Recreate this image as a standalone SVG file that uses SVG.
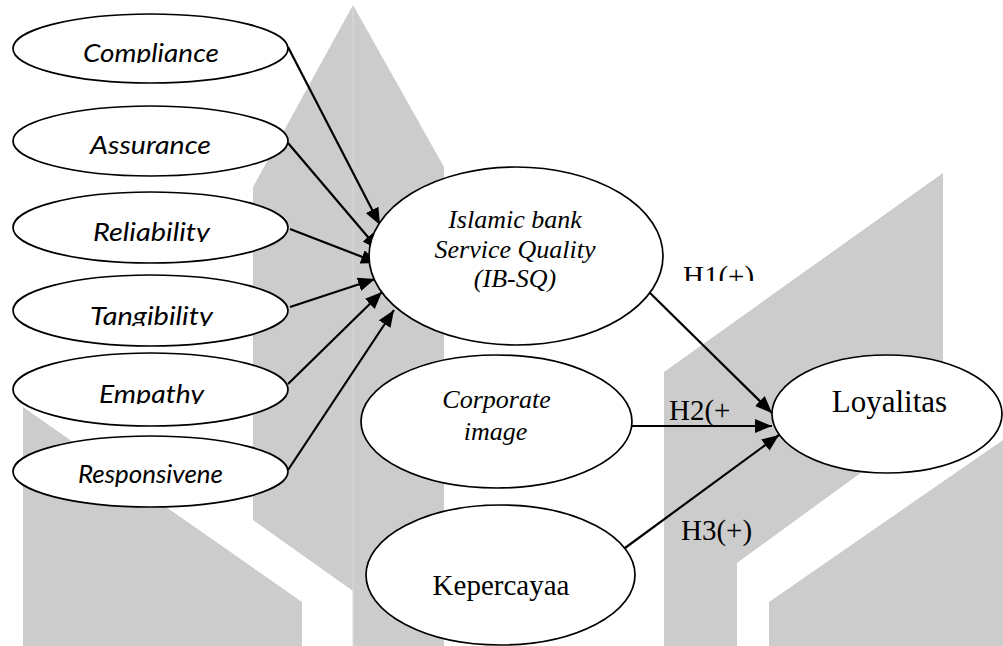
<svg xmlns="http://www.w3.org/2000/svg" width="1003" height="646" viewBox="0 0 1003 646">
  <style>
    .bg { fill: #cccccc; }
    .node { fill: #ffffff; stroke: #000000; stroke-width: 1.7; }
    .edge { fill: none; stroke: #000000; stroke-width: 2.2; marker-end: url(#arrow); }
    .dim { font-family: Lato, "Open Sans", "Noto Sans", sans-serif; font-style: italic; font-size: 26px; fill: #000; text-anchor: middle; }
    .lat { font-family: "Liberation Serif", "Times New Roman", serif; font-style: italic; font-size: 26px; fill: #000; text-anchor: middle; }
    .main { font-family: "Liberation Serif", "Times New Roman", serif; fill: #000; text-anchor: middle; }
    .hyp { font-family: "Liberation Serif", "Times New Roman", serif; font-size: 29px; fill: #000; }
  </style>
  <defs>
    <marker id="arrow" viewBox="0 0 17 14" refX="17" refY="7" markerWidth="17" markerHeight="14" markerUnits="userSpaceOnUse" orient="auto">
      <path d="M0,0 L17,7 L0,14 z" fill="#000000"/>
    </marker>
    <clipPath id="clip-compliance"><rect x="20" y="14" width="260" height="49"/></clipPath>
    <clipPath id="clip-reliability"><rect x="20" y="192" width="260" height="50"/></clipPath>
    <clipPath id="clip-tangibility"><rect x="20" y="275" width="260" height="51"/></clipPath>
    <clipPath id="clip-empathy"><rect x="20" y="353" width="260" height="51"/></clipPath>
    <clipPath id="clip-h1"><rect x="670" y="250" width="100" height="31"/></clipPath>
  </defs>

  <!-- background watermark shapes -->
  <g id="background">
    <polygon class="bg" points="353,5 253,187 253,520 353,591"/>
    <polygon class="bg" points="353,5 444,167 444,646 353,646"/>
    <line x1="353" y1="6" x2="353" y2="646" stroke="#d9d9d9" stroke-width="1"/>
    <polygon class="bg" points="23,407 302,602 302,646 23,646"/>
    <polygon class="bg" points="664,372 943,173 943,413 737,563 737,646 664,646"/>
    <polygon class="bg" points="769,602 1003,440 1003,646 769,646"/>
  </g>

  <!-- connectors -->
  <g id="connectors">
    <path class="edge" d="M288,47 L380,225"/>
    <path class="edge" d="M288,143 L379,250"/>
    <path class="edge" d="M290,229 L378,263"/>
    <path class="edge" d="M290,307 L375,279"/>
    <path class="edge" d="M288,384 L382,292"/>
    <path class="edge" d="M288,470 L394,310"/>
    <path class="edge" d="M647,290 L772,413"/>
    <path class="edge" d="M632,426 L772,426"/>
    <path class="edge" d="M625,548 L779,435"/>
  </g>

  <!-- dimension nodes -->
  <g id="compliance">
    <ellipse class="node" cx="150.5" cy="48.5" rx="137.5" ry="34.5"/>
    <text class="dim" x="151" y="62" textLength="136" lengthAdjust="spacingAndGlyphs" clip-path="url(#clip-compliance)">Compliance</text>
  </g>
  <g id="assurance">
    <ellipse class="node" cx="150.5" cy="141" rx="137.5" ry="35"/>
    <text class="dim" x="150.5" y="154" textLength="121" lengthAdjust="spacingAndGlyphs">Assurance</text>
  </g>
  <g id="reliability">
    <ellipse class="node" cx="150.5" cy="227.5" rx="137.5" ry="35.5"/>
    <text class="dim" x="151.5" y="241" textLength="117" lengthAdjust="spacingAndGlyphs" clip-path="url(#clip-reliability)">Reliability</text>
  </g>
  <g id="tangibility">
    <ellipse class="node" cx="150.5" cy="310.5" rx="137.5" ry="35.5"/>
    <text class="dim" x="151.5" y="325" textLength="123" lengthAdjust="spacingAndGlyphs" clip-path="url(#clip-tangibility)">Tangibility</text>
  </g>
  <g id="empathy">
    <ellipse class="node" cx="150.5" cy="389.5" rx="137.5" ry="36.5"/>
    <text class="dim" x="151.5" y="403" textLength="105" lengthAdjust="spacingAndGlyphs" clip-path="url(#clip-empathy)">Empathy</text>
  </g>
  <g id="responsiveness">
    <ellipse class="node" cx="150.5" cy="471.5" rx="137.5" ry="35.5"/>
    <text class="dim" x="150.5" y="483" textLength="145" lengthAdjust="spacingAndGlyphs">Responsivene</text>
  </g>

  <!-- construct nodes -->
  <g id="ib-sq">
    <ellipse class="node" cx="516" cy="256" rx="147" ry="89"/>
    <text class="lat" x="515" y="228">Islamic bank</text>
    <text class="lat" x="515" y="258">Service Quality</text>
    <text class="lat" x="515" y="287">(IB-SQ)</text>
  </g>
  <g id="corporate-image">
    <ellipse class="node" cx="496.5" cy="421.5" rx="135.5" ry="66.5"/>
    <text class="lat" x="496.5" y="408">Corporate</text>
    <text class="lat" x="495.5" y="440">image</text>
  </g>
  <g id="kepercayaan">
    <ellipse class="node" cx="500.5" cy="575" rx="134.5" ry="70"/>
    <text class="main" x="501" y="595" font-size="29">Kepercayaa</text>
  </g>
  <g id="loyalitas">
    <ellipse class="node" cx="887" cy="414" rx="115" ry="59"/>
    <text class="main" x="889.5" y="412" font-size="31">Loyalitas</text>
  </g>

  <!-- hypothesis labels -->
  <g id="labels">
    <text class="hyp" x="683" y="286" clip-path="url(#clip-h1)">H1(+)</text>
    <text class="hyp" x="669" y="420">H2(+</text>
    <text class="hyp" x="681" y="540">H3(+)</text>
  </g>
</svg>
